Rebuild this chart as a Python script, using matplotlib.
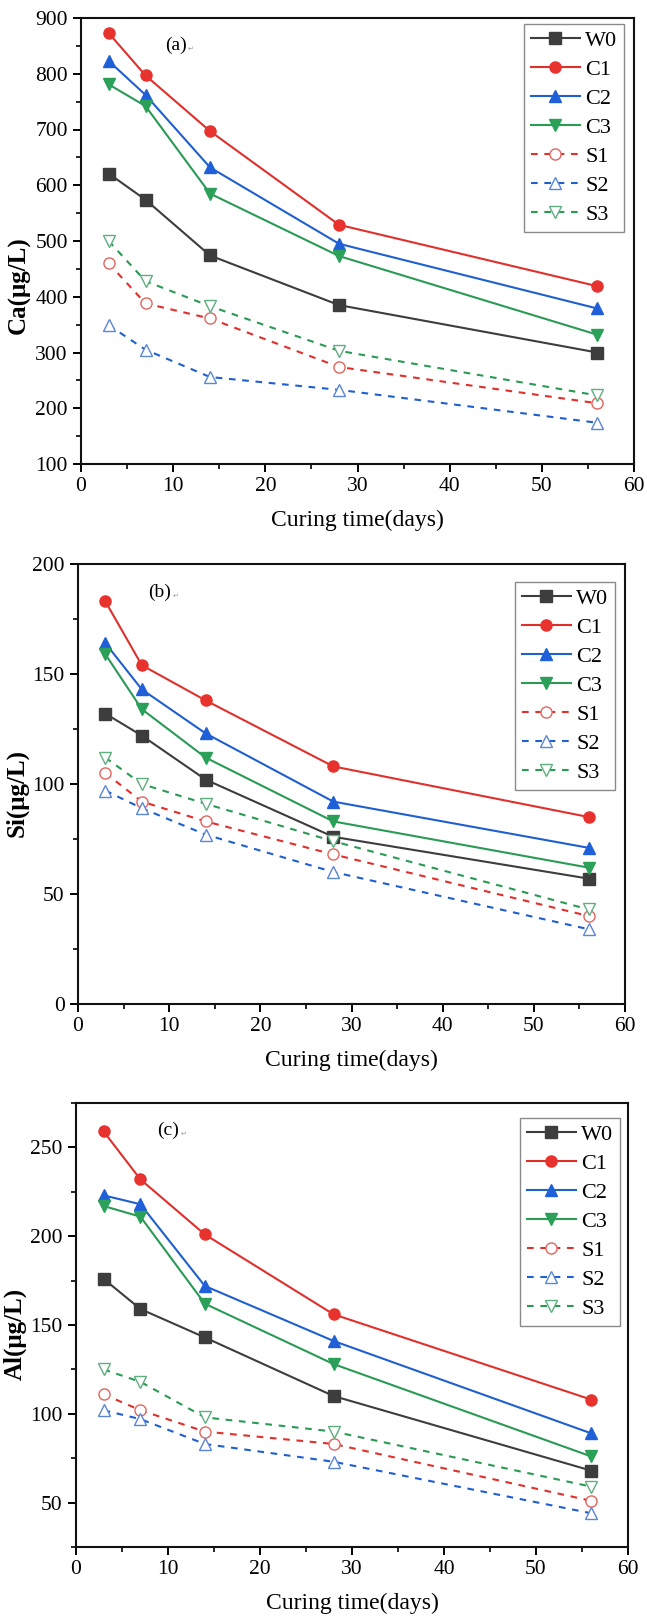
import matplotlib
matplotlib.use("Agg")
import matplotlib.pyplot as plt
from matplotlib.ticker import MultipleLocator

plt.rcParams['font.family'] = ['Liberation Serif', 'DejaVu Sans']

# Curing times (days)
days = [3, 7, 14, 28, 56]
series_names = ["W0", "C1", "C2", "C3", "S1", "S2", "S3"]

# Ca concentration (µg/L)
ca_W0 = [621, 574, 474, 385, 300]
ca_C1 = [873, 797, 697, 529, 419]
ca_C2 = [823, 762, 632, 495, 379]
ca_C3 = [781, 742, 585, 473, 332]
ca_S1 = [460, 388, 361, 274, 209]
ca_S2 = [349, 305, 256, 233, 174]
ca_S3 = [500, 428, 383, 303, 223]

# Si concentration (µg/L)
si_W0 = [132, 122, 102, 76, 57]
si_C1 = [183, 154, 138, 108, 85]
si_C2 = [164, 143, 123, 92, 71]
si_C3 = [159, 134, 112, 83, 62]
si_S1 = [105, 92, 83, 68, 40]
si_S2 = [97, 89, 77, 60, 34]
si_S3 = [112, 100, 91, 74, 43]

# Al concentration (µg/L)
al_W0 = [176, 159, 143, 110, 68]
al_C1 = [259, 232, 201, 156, 108]
al_C2 = [223, 218, 172, 141, 89]
al_C3 = [217, 211, 162, 128, 76]
al_S1 = [111, 102, 90, 83, 51]
al_S2 = [102, 97, 83, 73, 44]
al_S3 = [125, 118, 98, 90, 59]

styles = {
    "W0": dict(color="#3d3d3d", ls="-", marker="s", mfc="#3d3d3d", mec="#3d3d3d"),
    "C1": dict(color="#e0302c", ls="-", marker="o", mfc="#e8322d", mec="#e8322d"),
    "C2": dict(color="#1f5fcf", ls="-", marker="^", mfc="#1f60d8", mec="#1f60d8"),
    "C3": dict(color="#2a9a55", ls="-", marker="v", mfc="#2aa058", mec="#2aa058"),
    "S1": dict(color="#e0302c", ls=(0, (3.2, 3.2)), marker="o", mfc="white", mec="#e06560"),
    "S2": dict(color="#1f5fcf", ls=(0, (3.2, 3.2)), marker="^", mfc="white", mec="#5b86d6"),
    "S3": dict(color="#2a9a55", ls=(0, (3.2, 3.2)), marker="v", mfc="white", mec="#5fae80"),
}

W, H = 647, 1620
fig = plt.figure(figsize=(W / 100, H / 100), dpi=100)

panels = [
    dict(box=(81, 634, 18, 464), ylim=(100, 900), major=100, minor=50,
         ylabel="Ca(μg/L)", tag="(a)", tag_xy=(165, 45), ylab_y=0.40,
         data=[ca_W0, ca_C1, ca_C2, ca_C3, ca_S1, ca_S2, ca_S3],
         leg=(624, 24)),
    dict(box=(78, 625, 564, 1004), ylim=(0, 200), major=50, minor=25,
         ylabel="Si(μg/L)", tag="(b)", tag_xy=(148, 592), ylab_y=0.48,
         data=[si_W0, si_C1, si_C2, si_C3, si_S1, si_S2, si_S3],
         leg=(615, 582)),
    dict(box=(76, 628, 1103, 1547), ylim=(25, 275), major=50, minor=25,
         ylabel="Al(μg/L)", tag="(c)", tag_xy=(157, 1130), ylab_y=0.48,
         data=[al_W0, al_C1, al_C2, al_C3, al_S1, al_S2, al_S3],
         leg=(620, 1118)),
]

for p in panels:
    l, r, t, b = p["box"]
    ax = fig.add_axes([l / W, 1 - b / H, (r - l) / W, (b - t) / H])
    for name, vals in zip(series_names, p["data"]):
        st = styles[name]
        ax.plot(days, vals, color=st["color"], ls=st["ls"], lw=1.5,
                marker=st["marker"], ms=8, mfc=st["mfc"], mec=st["mec"],
                mew=1.0, label=name)
    ax.set_xlim(0, 60)
    ax.set_ylim(*p["ylim"])
    ax.xaxis.set_major_locator(MultipleLocator(10))
    ax.xaxis.set_minor_locator(MultipleLocator(5))
    ax.yaxis.set_major_locator(MultipleLocator(p["major"]))
    ax.yaxis.set_minor_locator(MultipleLocator(p["minor"]))
    ax.tick_params(which="major", direction="out", length=6, width=1.4,
                   labelsize=15.5, top=False, right=False)
    ax.tick_params(which="minor", direction="out", length=3.5, width=1.2,
                   top=False, right=False)
    for sp in ax.spines.values():
        sp.set_linewidth(1.5)
        sp.set_color("#111111")
    ax.set_xlabel("Curing time(days)", fontsize=17, labelpad=10)
    ax.set_ylabel(p["ylabel"], fontsize=18, fontweight="bold")
    ax.yaxis.set_label_coords(-0.09, p["ylab_y"])

    # panel tag with a faint paragraph mark after it
    tx, ty = p["tag_xy"]
    tag = ax.text((tx - l) / (r - l), 1 - (ty - t) / (b - t), p["tag"],
                  transform=ax.transAxes, fontsize=14, va="center", ha="left")
    ax.annotate("↵", xy=(1, 0.3), xycoords=tag, xytext=(1, 0),
                textcoords="offset points", fontsize=5, color="#999999",
                va="center", ha="left", family="DejaVu Sans")

    lx, ly = p["leg"]
    leg = ax.legend(loc="upper right",
                    bbox_to_anchor=((lx - l) / (r - l), 1 - (ly - t) / (b - t)),
                    borderaxespad=0, fontsize=16, frameon=True, fancybox=False,
                    edgecolor="#8a8a8a", framealpha=1, handlelength=2.2,
                    handletextpad=0.25, labelspacing=0.38, borderpad=0.3)
    leg.get_frame().set_linewidth(1.0)

fig.savefig("out.png", dpi=100)
